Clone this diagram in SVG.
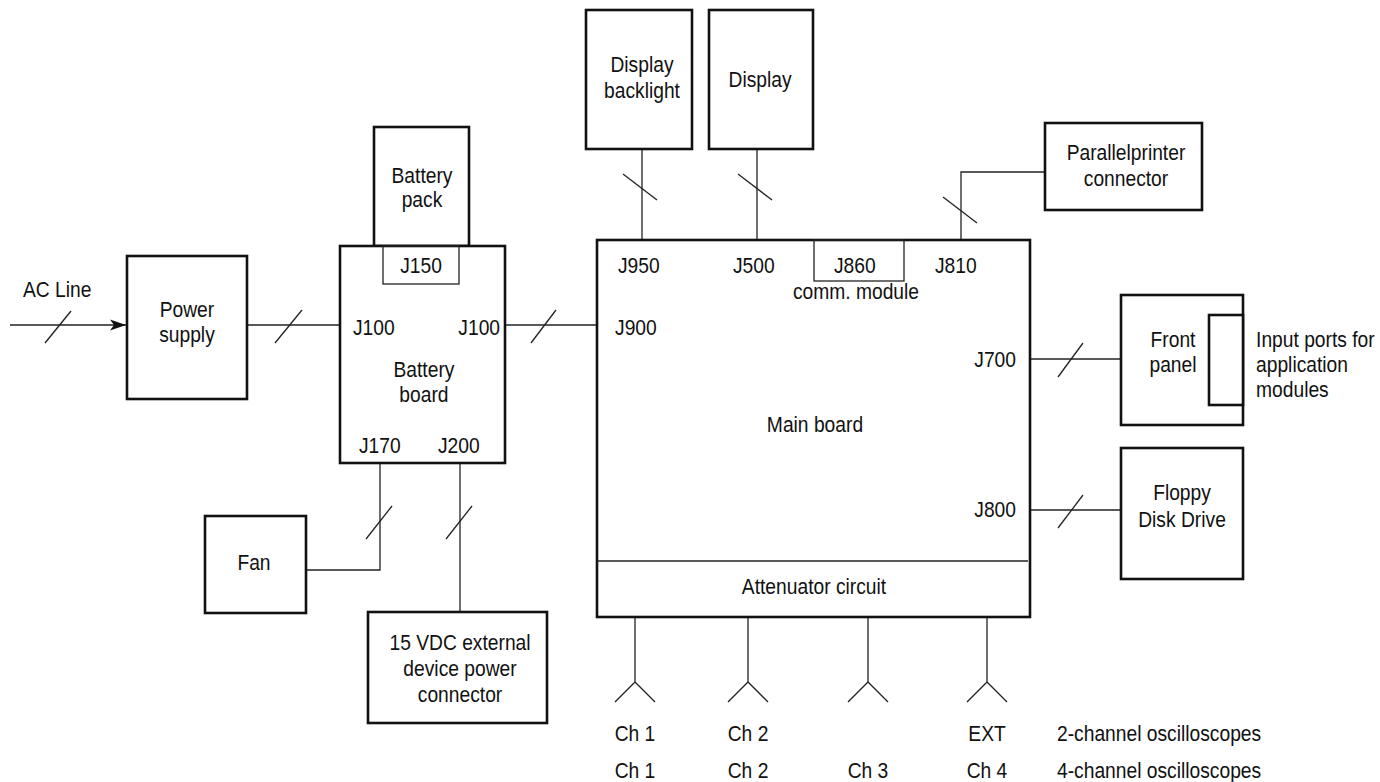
<svg xmlns="http://www.w3.org/2000/svg" width="1380" height="782" viewBox="0 0 1380 782">
<style>
  text { font-family: "Liberation Sans", Arial, sans-serif; font-size: 21.5px; fill: #111; }
  .m { text-anchor: middle; }
  .e { text-anchor: end; }
  .box { fill: #fff; stroke: #111; stroke-width: 2.6; }
  .thin { fill: none; stroke: #222; stroke-width: 1.3; }
  .ln { fill: none; stroke: #222; stroke-width: 1.3; }
</style>
<defs>
  <marker id="arr" viewBox="0 0 10 10" refX="10" refY="5" markerWidth="16" markerHeight="16" markerUnits="userSpaceOnUse" orient="auto">
    <path d="M0,1.5 L10,5 L0,8.5 L2.5,5 Z" fill="#111"/>
  </marker>
</defs>
<rect width="1380" height="782" fill="#fff"/>

<g id="connectors">
  <line class="ln" x1="10" y1="325" x2="126" y2="325" marker-end="url(#arr)"/>
  <line class="ln" x1="45" y1="343" x2="71" y2="311"/>
  <line class="ln" x1="247" y1="325" x2="340" y2="325"/>
  <line class="ln" x1="275" y1="343" x2="302" y2="310"/>
  <line class="ln" x1="505" y1="325" x2="597" y2="325"/>
  <line class="ln" x1="531" y1="343" x2="556" y2="310"/>
  <polyline class="ln" points="380,463 380,570 306,570"/>
  <line class="ln" x1="366" y1="539" x2="392" y2="506"/>
  <line class="ln" x1="460" y1="463" x2="460" y2="612"/>
  <line class="ln" x1="446" y1="539" x2="472" y2="506"/>
  <line class="ln" x1="642" y1="149" x2="642" y2="240"/>
  <line class="ln" x1="623" y1="174" x2="657" y2="200"/>
  <line class="ln" x1="757" y1="149" x2="757" y2="240"/>
  <line class="ln" x1="738" y1="174" x2="772" y2="200"/>
  <polyline class="ln" points="961,240 961,172 1045,172"/>
  <line class="ln" x1="943" y1="197" x2="977" y2="223"/>
  <line class="ln" x1="1030" y1="359" x2="1121" y2="359"/>
  <line class="ln" x1="1058" y1="377" x2="1083" y2="343"/>
  <line class="ln" x1="1030" y1="510" x2="1121" y2="510"/>
  <line class="ln" x1="1058" y1="528" x2="1083" y2="495"/>
  <path class="ln" d="M635,617 V682 M615,702 L635,682 L655,702"/>
  <path class="ln" d="M748,617 V682 M728,702 L748,682 L768,702"/>
  <path class="ln" d="M868,617 V682 M848,702 L868,682 L888,702"/>
  <path class="ln" d="M987,617 V682 M967,702 L987,682 L1007,702"/>
</g>

<g id="ac-line">
  <g transform="scale(0.895 1)"><text x="25.7" y="297">AC Line</text></g>
</g>

<g id="power-supply">
  <rect class="box" x="127" y="256" width="120" height="143"/>
  <g transform="scale(0.895 1)">
    <text class="m" x="208.9" y="317">Power</text>
    <text class="m" x="208.9" y="342">supply</text>
  </g>
</g>

<g id="battery-pack">
  <rect class="box" x="374" y="127" width="95" height="119"/>
  <g transform="scale(0.895 1)">
    <text class="m" x="471.5" y="183">Battery</text>
    <text class="m" x="471.5" y="207">pack</text>
  </g>
</g>

<g id="battery-board">
  <rect class="box" x="340" y="246" width="165" height="217"/>
  <rect class="thin" x="383" y="246" width="76" height="38"/>
  <g transform="scale(0.895 1)">
    <text class="m" x="470.4" y="273">J150</text>
    <text x="394.4" y="335">J100</text>
    <text class="e" x="558.7" y="335">J100</text>
    <text class="m" x="473.7" y="377">Battery</text>
    <text class="m" x="473.7" y="402">board</text>
    <text x="401.1" y="453">J170</text>
    <text x="489.4" y="453">J200</text>
  </g>
</g>

<g id="fan">
  <rect class="box" x="205" y="516" width="101" height="97"/>
  <g transform="scale(0.895 1)"><text class="m" x="283.8" y="570">Fan</text></g>
</g>

<g id="ext-power">
  <rect class="box" x="368" y="612" width="179" height="111"/>
  <g transform="scale(0.895 1)">
    <text class="m" x="514" y="650">15 VDC external</text>
    <text class="m" x="514" y="676">device power</text>
    <text class="m" x="514" y="702">connector</text>
  </g>
</g>

<g id="display-backlight">
  <rect class="box" x="586" y="10" width="106" height="139"/>
  <g transform="scale(0.895 1)">
    <text class="m" x="717.3" y="72">Display</text>
    <text class="m" x="717.3" y="98">backlight</text>
  </g>
</g>

<g id="display">
  <rect class="box" x="709" y="10" width="104" height="139"/>
  <g transform="scale(0.895 1)"><text class="m" x="849.2" y="87">Display</text></g>
</g>

<g id="parallel-printer">
  <rect class="box" x="1045" y="123" width="157" height="87"/>
  <g transform="scale(0.895 1)">
    <text class="m" x="1258.1" y="160">Parallelprinter</text>
    <text class="m" x="1258.1" y="186">connector</text>
  </g>
</g>

<g id="main-board">
  <rect class="box" x="597" y="240" width="433" height="377"/>
  <rect class="thin" x="814" y="240" width="90" height="41"/>
  <line class="thin" x1="597" y1="561" x2="1028" y2="561"/>
  <g transform="scale(0.895 1)">
    <text x="690.5" y="273">J950</text>
    <text x="819" y="273">J500</text>
    <text x="931.8" y="273">J860</text>
    <text x="1044.7" y="273">J810</text>
    <text class="m" x="956.4" y="299">comm. module</text>
    <text x="687.2" y="335">J900</text>
    <text class="e" x="1135.2" y="367">J700</text>
    <text class="m" x="910.6" y="432">Main board</text>
    <text class="e" x="1135.2" y="517">J800</text>
    <text class="m" x="909.5" y="594">Attenuator circuit</text>
  </g>
</g>

<g id="front-panel">
  <rect class="box" x="1121" y="295" width="122" height="130"/>
  <rect class="box" x="1209" y="315" width="34" height="90"/>
  <g transform="scale(0.895 1)">
    <text class="m" x="1310.6" y="347">Front</text>
    <text class="m" x="1310.6" y="372">panel</text>
    <text x="1403.4" y="347">Input ports for</text>
    <text x="1403.4" y="372">application</text>
    <text x="1403.4" y="397">modules</text>
  </g>
</g>

<g id="floppy">
  <rect class="box" x="1121" y="448" width="122" height="131"/>
  <g transform="scale(0.895 1)">
    <text class="m" x="1320.7" y="500">Floppy</text>
    <text class="m" x="1320.7" y="527">Disk Drive</text>
  </g>
</g>

<g id="channels">
  <g transform="scale(0.895 1)">
    <text class="m" x="709.5" y="741">Ch 1</text>
    <text class="m" x="835.8" y="741">Ch 2</text>
    <text class="m" x="1102.8" y="741">EXT</text>
    <text x="1181" y="741">2-channel oscilloscopes</text>
    <text class="m" x="709.5" y="778">Ch 1</text>
    <text class="m" x="835.8" y="778">Ch 2</text>
    <text class="m" x="969.8" y="778">Ch 3</text>
    <text class="m" x="1102.8" y="778">Ch 4</text>
    <text x="1181" y="778">4-channel oscilloscopes</text>
  </g>
</g>
</svg>
